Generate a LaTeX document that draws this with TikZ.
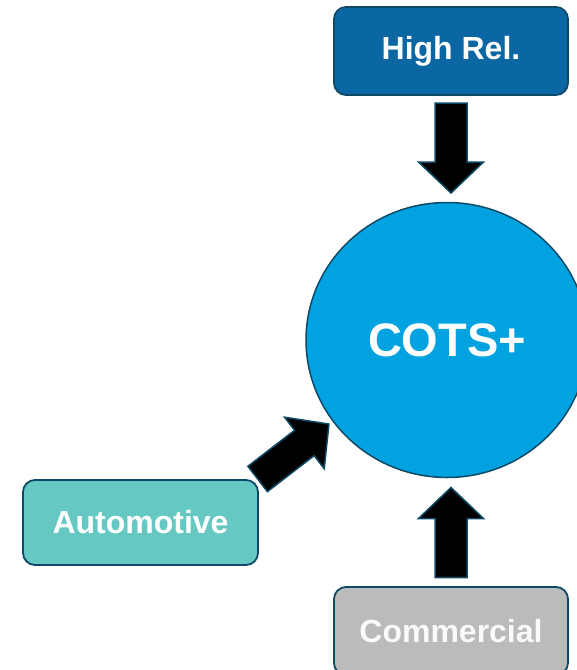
\documentclass[tikz,border=0pt]{standalone}
\usepackage{fontspec}
\usetikzlibrary{shapes.geometric}
\setmainfont{Liberation Sans}
\definecolor{highrel}{HTML}{0B67A4}
\definecolor{auto}{HTML}{66C8C3}
\definecolor{comm}{HTML}{BBBBBB}
\definecolor{cots}{HTML}{00A3E0}
\definecolor{edge}{HTML}{0E4A66}
\tikzset{
  box/.style={draw=edge, line width=1.8pt, rounded corners=12pt, minimum width=234pt, minimum height=88pt, text=white, font=\bfseries\fontsize{32}{38}\selectfont},
  blockarr/.style={fill=black, draw=edge, line width=1.5pt, line join=miter}
}
\newcommand{\blockshape}{(-45,-16) -- (14,-16) -- (14,-32.5) -- (45,0) -- (14,32.5) -- (14,16) -- (-45,16) -- cycle}
\begin{document}
\begin{tikzpicture}[x=1pt, y=-1pt]
\useasboundingbox (0,0) rectangle (577,670);
\clip (0,0) rectangle (577,670);
\node[box, fill=highrel] (hr) at (451,51) {High Rel.};
\node[box, fill=auto, minimum width=235pt, minimum height=85pt] (au) at (140.5,522.5) {Automotive};
\node[box, fill=comm, text=white!96!gray] (co) at (451,631) {Commercial};
\node[ellipse, draw=edge, line width=1.5pt, fill=cots, minimum width=282pt, minimum height=275pt, inner sep=0pt, text=white, font=\bfseries\fontsize{47}{56}\selectfont] (cots) at (447,340) {COTS+};
\draw[blockarr, shift={(451,148)}, rotate=-90] \blockshape;
\draw[blockarr, shift={(451,532.5)}, rotate=90] \blockshape;
\draw[blockarr, shift={(293.3,451.5)}, rotate=37.6] \blockshape;
\end{tikzpicture}
\end{document}
